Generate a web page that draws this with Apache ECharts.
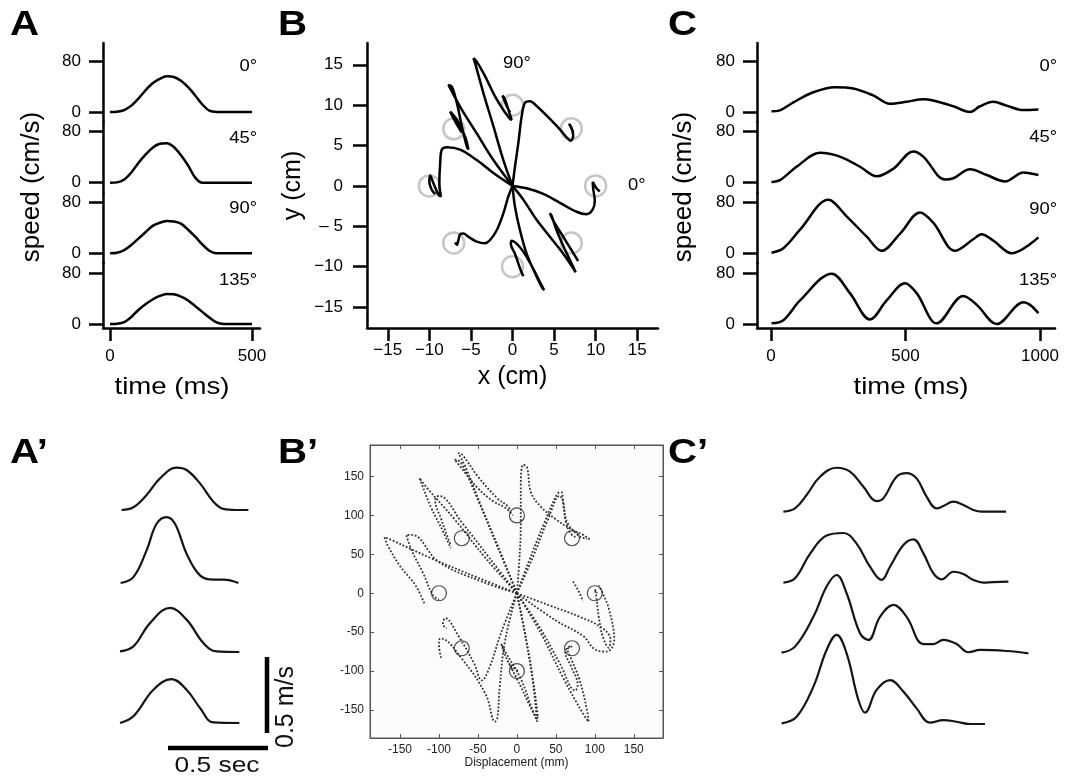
<!DOCTYPE html>
<html>
<head>
<meta charset="utf-8">
<script src="https://cdn.jsdelivr.net/npm/echarts@6/dist/echarts.min.js"></script>
<style>
html, body { margin: 0; padding: 0; background: #fff; }
#main { width: 1067px; height: 778px; }
</style>
</head>
<body>
<div id="main"></div>
<script>
// ---- data ----
// A: model speed, cm/s, sampled every 25 ms
const aTime = [0, 25, 50, 75, 100, 125, 150, 175, 200, 225, 250, 275, 300, 325, 350, 375, 400, 425, 450, 475, 500];
const aSpeed0 = [0, 0.5, 3, 10, 21, 34, 45, 52, 56, 55, 49, 39, 26, 12, 2, 0, 0, 0, 0, 0, 0];
const aSpeed45 = [0, 0.5, 5, 16, 31, 44, 55, 61, 62, 56, 43, 27, 8, 0, 0, 0, 0, 0, 0, 0, 0];
const aSpeed90 = [0, 1, 5, 13, 23, 33, 43, 48, 50.5, 50, 46.5, 37, 26, 14, 4, 0, 0, 0, 0, 0, 0];
const aSpeed135 = [0, 0.5, 3, 11, 22, 31, 38.5, 44, 47, 46.5, 43, 37, 28, 19, 10, 2.5, 0, 0, 0, 0, 0];
const angleLabels = ['0°', '45°', '90°', '135°'];

// C: [time ms, speed cm/s]
const cSpeed0 = [[2,1],[33,2.6],[83,15],[157,31],[238,39],[306,37],[380,26],[442,13],[504,16],[566,20],[603,18],[678,9],[740,0],[777,9],[826,16],[876,10],[938,3],[994,4]];
const cSpeed45 = [[2,1],[33,4],[95,25],[182,47],[256,41],[331,25],[393,10],[455,22],[529,49],[566,41],[647,5],[678,7],[740,21],[802,12],[870,2],[938,16],[994,12]];
const cSpeed90 = [[2,1],[46,8],[108,37],[213,84],[281,58],[356,26],[411,4],[480,31],[554,64],[603,48],[684,4],[752,22],[783,30],[826,20],[895,0],[994,25]];
const cSpeed135 = [[2,1],[46,6],[108,37],[226,79],[294,48],[368,7],[430,37],[498,64],[542,48],[616,1],[715,44],[765,30],[839,0],[938,34],[963,30],[994,17]];

// B: hand paths, cm
const bTargets = [[10,0],[7.07,7.07],[0,10],[-7.07,7.07],[-10,0],[-7.07,-7.07],[0,-10],[7.07,-7.07]];
const bPath0 = [[0,0],[1.7,-0.3],[3.7,-1.0],[5.7,-2.1],[7.7,-3.2],[8.9,-3.5],[9.6,-3.0],[9.9,-1.9],[9.7,-0.3],[9.65,0.5],[10.1,-0.3],[10.5,-0.7]];
const bPath45 = [[0,0],[0.3,2.4],[0.7,5.3],[1.1,8.6],[1.5,10.3],[2.1,10.5],[2.9,9.9],[4.5,8.3],[5.7,7.0],[6.5,6.0],[7.0,5.6],[7.3,6.2],[7.1,7.2],[6.8,7.7],[7.3,6.7]];
const bPath90 = [[0,0],[-1.1,3.2],[-2.3,7.4],[-3.5,11.5],[-4.5,15.2],[-4.7,15.8],[-4.3,15.4],[-3.3,13.6],[-2.1,11.1],[-0.9,9.1],[-0.3,8.3],[-0.1,8.2],[-0.3,8.8],[-0.9,10.7],[-1.2,11.2],[-0.7,9.9],[-0.3,9.1]];
const bPath135 = [[0,0],[-2.3,3.2],[-4.3,6.5],[-6.3,9.8],[-7.5,12.1],[-7.7,12.5],[-7.3,12.3],[-6.7,10.3],[-6.1,7.4],[-5.5,4.9],[-5.3,4.5],[-5.7,6.1],[-6.7,8.2],[-7.5,9.2],[-6.9,8.0],[-6.1,6.6]];
const bPath180 = [[0,0],[-2.3,1.6],[-4.3,3.2],[-6.3,4.5],[-7.9,4.8],[-8.5,4.5],[-8.7,2.8],[-8.8,0.3],[-8.6,-1.3],[-8.9,-1.1],[-9.5,0.3],[-9.9,1.3],[-10.0,0.5],[-9.7,-0.5],[-9.3,-1.0]];
const bPath225 = [[0,0],[-0.5,-1.3],[-1.1,-3.4],[-1.9,-5.5],[-2.7,-6.7],[-3.3,-7.1],[-4.3,-6.9],[-5.3,-6.3],[-5.9,-5.9],[-6.3,-6.0],[-6.5,-6.7],[-6.7,-7.3],[-6.9,-7.0]];
const bPath270 = [[0,0],[0.3,-2.6],[0.9,-5.5],[1.7,-8.4],[2.7,-10.8],[3.5,-12.5],[3.8,-12.9],[3.3,-11.9],[2.1,-9.5],[0.9,-7.6],[-0.1,-6.8],[-0.2,-7.2],[0.3,-8.4],[0.9,-10.2],[1.3,-11.2]];
const bPath315 = [[0,0],[1.3,-1.7],[2.9,-4.2],[4.5,-6.3],[6.1,-8.4],[7.3,-10.2],[7.6,-10.7],[7.1,-9.6],[6.1,-7.4],[5.3,-5.5],[4.7,-3.7],[4.5,-3.4],[4.9,-4.3],[6.1,-6.3],[7.3,-8.3],[7.9,-9.3]];

// A': measured speed, [ms, cm/s]
const apSpeed0 = [[8,0],[67,1.8],[133,9.9],[200,20.8],[283,27.9],[333,26.3],[400,17.5],[467,5.5],[517,0.7],[580,0],[642,0]];
const apSpeed45 = [[3,0],[67,3.9],[133,21.5],[183,39],[233,43.4],[275,39],[333,19.3],[400,5],[467,2.2],[517,2.2],[592,0]];
const apSpeed90 = [[0,0.4],[67,3.7],[150,19],[250,29],[333,21.3],[417,5.9],[483,0.4],[597,0]];
const apSpeed135 = [[0,0],[67,4.4],[167,21.9],[258,28.9],[333,21.9],[400,9.9],[467,0.4],[597,0]];
const scaleSpeed = 50;   // 0.5 m/s
const scaleTime = 500;   // 0.5 s

// C': measured speed, [ms, cm/s]
const cpSpeed0 = [[17,0],[75,2.2],[133,11],[200,23],[283,28.9],[350,26.3],[417,16.4],[483,7],[517,8.8],[583,23],[633,25.4],[683,21.9],[733,9.9],[783,2.2],[817,3.7],[867,6.6],[917,4.4],[967,1.1],[1008,0],[1067,0],[1130,0]];
const cpSpeed45 = [[17,0],[75,2.9],[150,19],[233,31],[317,32.7],[383,25.7],[450,10.5],[508,1.8],[550,10.5],[617,24.8],[667,28.5],[717,19.3],[767,6.1],[808,2.2],[867,7.2],[917,5.7],[967,1.8],[1017,0],[1067,0.4],[1142,0.7]];
const cpSpeed90 = [[8,0.4],[75,4.4],[167,24],[233,43.9],[283,51.5],[333,39.5],[400,13.2],[442,8.8],[500,24],[567,31.8],[633,24],[717,6.1],[767,6.1],[817,8.8],[883,6.1],[942,0.7],[1000,2.2],[1133,1.5],[1242,0]];
const cpSpeed135 = [[8,0.4],[83,4.8],[167,24.6],[233,48.7],[283,58.6],[333,46.5],[392,15.8],[425,7.5],[483,22.4],[550,28.9],[617,21.3],[683,10.3],[750,0.9],[817,2.6],[883,1.5],[950,0],[1025,0]];

// B': hand paths, mm
const bpTargets = [[100,0],[70.7,70.7],[0,100],[-70.7,70.7],[-100,0],[-70.7,-70.7],[0,-100],[70.7,-70.7]];
const bpPaths = [
  [[0,0],[-20,50],[-45,110],[-65,160],[-75,180],[-70,178],[-50,150],[-25,122],[-12,112],[-8,105]],
  [[0,0],[-25,60],[-50,120],[-72,168],[-80,172],[-72,162],[-50,135],[-30,118],[-15,110],[-5,100]],
  [[0,0],[3,40],[5,90],[5,140],[8,165],[13,162],[18,130],[30,112],[50,95],[70,82],[85,75],[95,68]],
  [[0,0],[15,40],[35,90],[52,128],[57,130],[60,110],[65,90],[75,78],[82,72],[90,70]],
  [[0,0],[20,45],[40,95],[55,125],[60,115],[62,95],[68,78],[75,72]],
  [[0,0],[40,-15],[80,-30],[110,-45],[120,-60],[118,-70],[110,-55],[105,-30],[102,-5],[100,5],[103,0]],
  [[0,0],[50,-35],[85,-55],[100,-72],[115,-75],[125,-60],[118,-20],[110,0],[105,10]],
  [[72,15],[78,5],[85,-10]],
  [[0,0],[30,-50],[60,-110],[85,-155],[92,-165],[90,-150],[80,-110],[70,-85],[65,-72],[72,-68]],
  [[0,0],[30,-45],[55,-90],[75,-125],[78,-118],[70,-95],[62,-75],[68,-68]],
  [[0,0],[10,-50],[20,-110],[25,-155],[26,-165],[20,-150],[5,-110],[-15,-75],[-20,-65],[-15,-80],[-5,-100]],
  [[0,0],[12,-60],[22,-120],[27,-160],[22,-155],[5,-120],[-10,-90],[-5,-95],[2,-100]],
  [[0,0],[-15,-60],[-22,-120],[-25,-160],[-28,-165],[-40,-130],[-70,-85],[-98,-58],[-100,-65],[-97,-85]],
  [[0,0],[-20,-50],[-35,-95],[-45,-112],[-55,-90],[-75,-55],[-92,-32],[-95,-40],[-90,-45]],
  [[0,0],[-50,20],[-110,45],[-160,68],[-170,72],[-165,60],[-150,35],[-130,10],[-118,-15]],
  [[0,0],[-45,15],[-100,40],[-135,75],[-142,75],[-135,55],[-120,25],[-108,-2],[-100,-8]],
  [[0,0],[-40,45],[-80,95],[-115,135],[-125,148],[-122,140],[-110,110],[-95,80],[-85,58]],
  [[0,0],[-35,45],[-70,90],[-100,125],[-105,120],[-97,95],[-90,75],[-85,62]]
];

// ---- layout ----
const FONT = '"Liberation Sans", Arial, Helvetica, sans-serif';
const grids = [], xAxes = [], yAxes = [], series = [], graphics = [];
const blackLine = {color: '#000', width: 2.5};
const plainNum = function (v) { return String(v); };

function addCurve(xi, yi, data, style, extra) {
  series.push(Object.assign({
    type: 'line', xAxisIndex: xi, yAxisIndex: yi, data: data,
    showSymbol: false, smooth: 0.3, silent: true, lineStyle: style
  }, extra || {}));
}

// stacked speed panels (A and C)
const zeroY = [112, 182.7, 253.3, 324];
const kY = 51 / 80;
function addStack(left, right, zeroPx, tEnd, tEndPx, curves, tTicks, smooth) {
  const kX = (tEndPx - zeroPx) / tEnd;
  curves.forEach(function (data, i) {
    const top = i === 0 ? 43 : zeroY[i - 1] + 10;
    const bottom = i === 3 ? 328 : zeroY[i] + 10;
    const gi = grids.length;
    grids.push({left: left, top: top, width: right - left, height: bottom - top});
    const xi = xAxes.length, yi = yAxes.length;
    xAxes.push({
      gridIndex: gi, type: 'value', show: i === 3,
      min: (left - zeroPx) / kX, max: (right - zeroPx) / kX,
      axisLine: {onZero: false, lineStyle: blackLine},
      axisTick: {customValues: tTicks, length: 13, lineStyle: blackLine},
      axisLabel: {customValues: tTicks, margin: 20, fontSize: 17, color: '#000', fontFamily: FONT, formatter: plainNum},
      splitLine: {show: false}
    });
    yAxes.push({
      gridIndex: gi, type: 'value',
      min: -(bottom - zeroY[i]) / kY, max: (zeroY[i] - top) / kY,
      axisLine: {show: true, onZero: false, lineStyle: blackLine},
      axisTick: {show: true, customValues: [0, 80], length: 14, lineStyle: blackLine},
      axisLabel: {customValues: [0, 80], margin: 22, fontSize: 17, color: '#000', fontFamily: FONT},
      splitLine: {show: false}
    });
    addCurve(xi, yi, data, blackLine, {smooth: smooth});
  });
}

const pairs = function (ys) { return aTime.map(function (t, i) { return [t, ys[i]]; }); };
addStack(103, 260, 110, 500, 252, [pairs(aSpeed0), pairs(aSpeed45), pairs(aSpeed90), pairs(aSpeed135)], [0, 500], 0.3);
addStack(757, 1055, 771, 1000, 1040, [cSpeed0, cSpeed45, cSpeed90, cSpeed135], [0, 500, 1000], 0.35);

// B
(function () {
  const gi = grids.length, xi = xAxes.length, yi = yAxes.length;
  const ticks = [-15, -10, -5, 0, 5, 10, 15];
  grids.push({left: 367, top: 43, width: 291, height: 285});
  xAxes.push({
    gridIndex: gi, type: 'value', min: -17.5, max: 17.5,
    name: 'x (cm)', nameLocation: 'middle', nameGap: 37,
    nameTextStyle: {fontSize: 25, color: '#000', fontFamily: FONT},
    axisLine: {onZero: false, lineStyle: blackLine},
    axisTick: {customValues: ticks, length: 13, lineStyle: blackLine},
    axisLabel: {customValues: ticks, margin: 14, fontSize: 17, color: '#000', fontFamily: FONT,
      formatter: function (v) { return String(v).replace('-', '\u2212'); }},
    splitLine: {show: false}
  });
  yAxes.push({
    gridIndex: gi, type: 'value', min: -17.6, max: 17.7,
    name: 'y (cm)', nameLocation: 'middle', nameGap: 61,
    nameTextStyle: {fontSize: 25, color: '#000', fontFamily: FONT},
    axisLine: {show: true, onZero: false, lineStyle: blackLine},
    axisTick: {show: true, customValues: ticks, length: 14, lineStyle: blackLine},
    axisLabel: {customValues: ticks, margin: 24, fontSize: 17, color: '#000', fontFamily: FONT,
      formatter: function (v) { return v === -5 ? '\u2013 5' : String(v).replace('-', '\u2212'); }},
    splitLine: {show: false}
  });
  series.push({
    type: 'scatter', xAxisIndex: xi, yAxisIndex: yi, data: bTargets, silent: true,
    symbol: 'circle', symbolSize: 21, z: 1,
    itemStyle: {color: 'rgba(0,0,0,0)', borderColor: '#b8b8b8', borderWidth: 2.5}
  });
  [bPath0, bPath45, bPath90, bPath135, bPath180, bPath225, bPath270, bPath315].forEach(function (p) {
    addCurve(xi, yi, p, blackLine, {z: 3, smooth: 0.35});
  });
})();

// A' and C' stacks (no axes), 0.2 px per ms, 76 px per 50 cm/s
function addPlainStack(left, tMax, baselines, curves) {
  const out = [];
  curves.forEach(function (data, i) {
    const gi = grids.length, xi = xAxes.length, yi = yAxes.length;
    grids.push({left: left, top: baselines[i] - 76, width: tMax * 0.2, height: 76});
    xAxes.push({gridIndex: gi, type: 'value', min: 0, max: tMax, show: false});
    yAxes.push({gridIndex: gi, type: 'value', min: 0, max: 50, show: false});
    addCurve(xi, yi, data, {color: '#151515', width: 2.2}, {clip: false, smooth: 0.4});
    out.push([xi, yi]);
  });
  return out;
}
const apIdx = addPlainStack(120, 800, [510, 583, 652, 723], [apSpeed0, apSpeed45, apSpeed90, apSpeed135]);
addPlainStack(780, 1300, [511.7, 582.7, 653.3, 724], [cpSpeed0, cpSpeed45, cpSpeed90, cpSpeed135]);

// scale bars of A' (drawn in the bottom A' trace's scales)
const bar = {color: '#000', width: 4.5};
addCurve(apIdx[3][0], apIdx[3][1], [[735, -6.6], [735, -6.6 + scaleSpeed]], bar, {clip: false, smooth: false});
addCurve(apIdx[3][0], apIdx[3][1], [[240, -16.4], [240 + scaleTime, -16.4]], bar, {clip: false, smooth: false});

// B'
(function () {
  const gi = grids.length, xi = xAxes.length, yi = yAxes.length;
  const ticks = [-150, -100, -50, 0, 50, 100, 150];
  const thin = {color: '#555', width: 1};
  grids.push({left: 370, top: 445, width: 293, height: 293, show: true, borderColor: '#555', borderWidth: 1, backgroundColor: '#fcfcfc'});
  const lab = {customValues: ticks, margin: 6, fontSize: 12, color: '#222', fontFamily: FONT};
  const tick = {customValues: ticks, inside: true, length: 4, lineStyle: thin};
  xAxes.push({gridIndex: gi, type: 'value', min: -188.5, max: 187.5,
    name: 'Displacement (mm)', nameLocation: 'middle', nameGap: 18,
    nameTextStyle: {fontSize: 12, color: '#222', fontFamily: FONT},
    axisLine: {onZero: false, lineStyle: thin}, axisTick: tick, axisLabel: lab, splitLine: {show: false}});
  xAxes.push({gridIndex: gi, type: 'value', position: 'top', min: -188.5, max: 187.5,
    axisLine: {onZero: false, lineStyle: thin}, axisTick: tick, axisLabel: {show: false}, splitLine: {show: false}});
  yAxes.push({gridIndex: gi, type: 'value', min: -186, max: 190.5,
    axisLine: {show: true, onZero: false, lineStyle: thin}, axisTick: Object.assign({show: true}, tick),
    axisLabel: lab, splitLine: {show: false}});
  yAxes.push({gridIndex: gi, type: 'value', position: 'right', min: -186, max: 190.5,
    axisLine: {show: true, onZero: false, lineStyle: thin}, axisTick: Object.assign({show: true}, tick),
    axisLabel: {show: false}, splitLine: {show: false}});
  bpPaths.forEach(function (p) {
    addCurve(xi, yi, p, {color: '#333', width: 1.8, type: 'dotted'}, {smooth: 0.4});
  });
  series.push({
    type: 'scatter', xAxisIndex: xi, yAxisIndex: yi, data: bpTargets, silent: true,
    symbol: 'circle', symbolSize: 15, z: 4,
    itemStyle: {color: 'rgba(0,0,0,0)', borderColor: '#222', borderWidth: 1.2}
  });
})();

// ---- texts ----
function txt(text, x, y, size, opts) {
  opts = opts || {};
  graphics.push({
    type: 'text', x: x, y: y, rotation: opts.rot || 0, scaleX: opts.sx || 1, silent: true,
    style: {
      text: text, x: 0, y: 0, fill: opts.color || '#000',
      font: (opts.bold ? 'bold ' : '') + size + 'px ' + FONT,
      align: opts.align || 'center', textAlign: opts.align || 'center',
      verticalAlign: 'middle', textVerticalAlign: 'middle'
    }
  });
}
[['A', 10, 25], ['B', 278, 25], ['C', 668, 25], ['A\u2019', 10, 453], ['B\u2019', 278, 453], ['C\u2019', 668, 453]]
  .forEach(function (l) { txt(l[0], l[1], l[2], 35, {bold: true, align: 'left', sx: 1.15}); });

txt('speed (cm/s)', 32, 187, 26, {rot: Math.PI / 2});
txt('time (ms)', 172, 387, 24, {sx: 1.15});
txt('speed (cm/s)', 684, 187, 26, {rot: Math.PI / 2});
txt('time (ms)', 911, 387, 24, {sx: 1.15});

const angleYA = [67, 139, 209, 281], angleYC = [67, 138, 210, 281];
angleLabels.forEach(function (s, i) {
  txt(s, 257, angleYA[i], 16, {align: 'right', sx: 1.15});
  txt(s, 1057, angleYC[i], 16, {align: 'right', sx: 1.15});
});
txt('90°', 517, 64, 16, {sx: 1.15});
txt('0°', 628, 186, 16, {align: 'left', sx: 1.15});

txt('0.5 sec', 217, 766, 22, {sx: 1.2, color: '#111'});
txt('0.5 m/s', 286, 707, 25, {rot: Math.PI / 2, color: '#111'});

const chart = echarts.init(document.getElementById('main'), null, {renderer: 'canvas'});
chart.setOption({
  animation: false,
  backgroundColor: '#fff',
  grid: grids,
  xAxis: xAxes,
  yAxis: yAxes,
  series: series,
  graphic: graphics
});
</script>
</body>
</html>
